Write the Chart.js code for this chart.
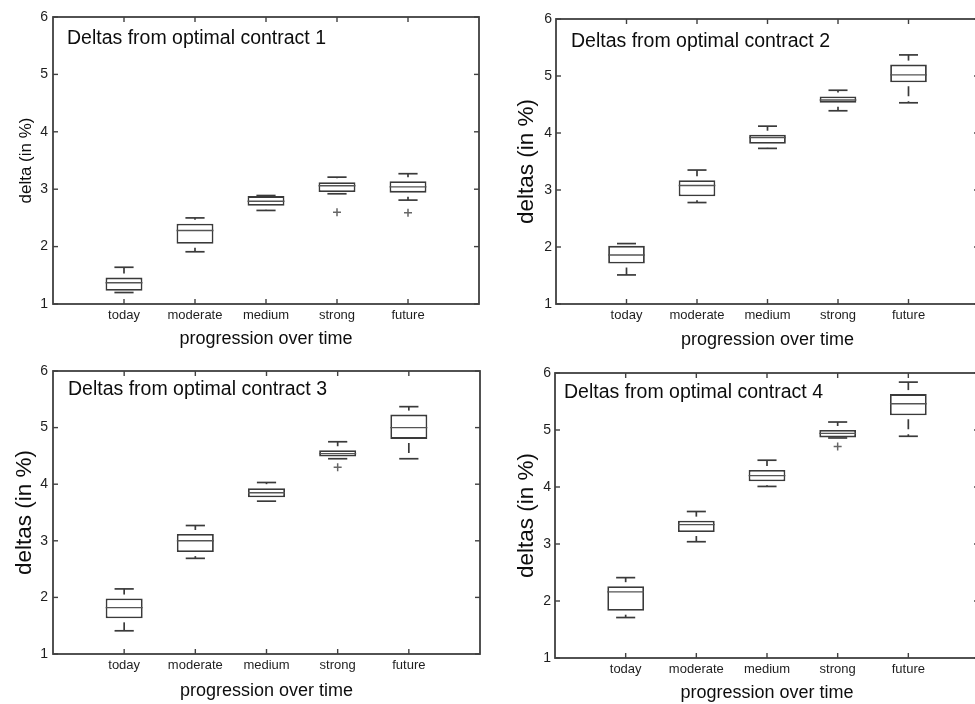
<!DOCTYPE html>
<html>
<head>
<meta charset="utf-8">
<script src="https://cdn.jsdelivr.net/npm/chart.js@4/dist/chart.umd.min.js"></script>
<style>
  html, body { margin: 0; padding: 0; background: #fff; overflow: hidden; width: 975px; height: 704px; }
  .panel { position: absolute; }
  .panel canvas { display: block; }
</style>
</head>
<body>
<div class="panel" style="left:0px;top:0px;"><canvas id="c1" width="490" height="352"></canvas></div>
<div class="panel" style="left:490px;top:0px;"><canvas id="c2" width="495" height="352"></canvas></div>
<div class="panel" style="left:0px;top:352px;"><canvas id="c3" width="490" height="352"></canvas></div>
<div class="panel" style="left:490px;top:352px;"><canvas id="c4" width="495" height="352"></canvas></div>
<script>
// Scenario categories along the x axis and the y tick values
const categories = ['today', 'moderate', 'medium', 'strong', 'future'];
const yTicks = [1, 2, 3, 4, 5, 6];

// Box statistics per scenario: [lower whisker, Q1, median, Q3, upper whisker]
const contract1 = [
  [1.20, 1.23, 1.37, 1.46, 1.64],
  [1.91, 2.05, 2.28, 2.40, 2.50],
  [2.63, 2.71, 2.79, 2.88, 2.89],
  [2.92, 2.95, 3.06, 3.12, 3.21],
  [2.81, 2.94, 3.04, 3.14, 3.27]
];
const contract2 = [
  [1.51, 1.71, 1.86, 2.02, 2.06],
  [2.78, 2.89, 3.08, 3.17, 3.35],
  [3.73, 3.81, 3.92, 3.97, 4.12],
  [4.39, 4.53, 4.58, 4.64, 4.75],
  [4.53, 4.89, 5.02, 5.20, 5.37]
];
const contract3 = [
  [1.41, 1.63, 1.82, 1.98, 2.15],
  [2.69, 2.80, 3.00, 3.12, 3.27],
  [3.70, 3.77, 3.85, 3.93, 4.03],
  [4.45, 4.49, 4.54, 4.60, 4.75],
  [4.45, 4.80, 5.00, 5.23, 5.37]
];
const contract4 = [
  [1.71, 1.83, 2.16, 2.26, 2.41],
  [3.04, 3.21, 3.34, 3.41, 3.57],
  [4.01, 4.10, 4.20, 4.30, 4.47],
  [4.86, 4.87, 4.94, 5.00, 5.14],
  [4.89, 5.26, 5.46, 5.63, 5.84]
];

// Outliers: [scenario position (1-based), value]
const contract1Outliers = [[4, 2.60], [5, 2.59]];
const contract2Outliers = [];
const contract3Outliers = [[4, 4.30]];
const contract4Outliers = [[4, 4.71]];

const panelTitles = [
  'Deltas from optimal contract 1',
  'Deltas from optimal contract 2',
  'Deltas from optimal contract 3',
  'Deltas from optimal contract 4'
];
const yTitles = ['delta (in %)', 'deltas (in %)', 'deltas (in %)', 'deltas (in %)'];
const xTitle = 'progression over time';

const FONT = '"Liberation Sans", Arial, Helvetica, sans-serif';
const INK = '#3a3a3a';
const CAP_HALF = 0.135;   // half width of whisker caps, in category units
const TICK_LEN = 5;

// Draws whiskers, caps, medians, the axes frame with inward ticks and the panel label
const boxPlotExtras = {
  id: 'boxPlotExtras',
  afterDatasetsDraw(chart, args, opts) {
    const { ctx, chartArea: a, scales: { x, y } } = chart;
    const boxes = chart.getDatasetMeta(0).data;
    const seg = (x0, y0, x1, y1) => { ctx.beginPath(); ctx.moveTo(x0, y0); ctx.lineTo(x1, y1); ctx.stroke(); };
    ctx.save();
    opts.stats.forEach((row, i) => {
      const [lo, q1, med, q3, hi] = row;
      const cx = x.getPixelForValue(i + 1);
      const cl = x.getPixelForValue(i + 1 - CAP_HALF);
      const cr = x.getPixelForValue(i + 1 + CAP_HALF);
      ctx.strokeStyle = INK;
      ctx.lineWidth = 1.7;
      // dashed whiskers from the box edges out to the caps
      ctx.setLineDash([10, 5]);
      ctx.lineDashOffset = 11;
      seg(cx, y.getPixelForValue(q3), cx, y.getPixelForValue(hi));
      seg(cx, y.getPixelForValue(q1), cx, y.getPixelForValue(lo));
      ctx.setLineDash([]);
      seg(cl, y.getPixelForValue(hi), cr, y.getPixelForValue(hi));
      seg(cl, y.getPixelForValue(lo), cr, y.getPixelForValue(lo));
      // median line across the box
      const b = boxes[i].getProps(['x', 'width'], true);
      ctx.lineWidth = 1.4;
      ctx.strokeStyle = '#555';
      seg(b.x - b.width / 2, y.getPixelForValue(med), b.x + b.width / 2, y.getPixelForValue(med));
    });
    // frame
    ctx.strokeStyle = '#404040';
    ctx.lineWidth = 1.8;
    ctx.strokeRect(a.left, a.top, a.right - a.left, a.bottom - a.top);
    // inward tick marks on all four sides
    ctx.lineWidth = 1.4;
    y.ticks.forEach(t => {
      const py = y.getPixelForValue(t.value);
      seg(a.left, py, a.left + TICK_LEN, py);
      seg(a.right, py, a.right - TICK_LEN, py);
    });
    x.ticks.forEach(t => {
      const px = x.getPixelForValue(t.value);
      seg(px, a.bottom, px, a.bottom - TICK_LEN);
      seg(px, a.top, px, a.top + TICK_LEN);
    });
    // panel label inside the axes
    ctx.fillStyle = '#0d0d0d';
    ctx.font = '19.5px ' + FONT;
    ctx.textBaseline = 'alphabetic';
    ctx.textAlign = 'left';
    ctx.fillText(opts.title, a.left + opts.titleDx, a.top + opts.titleDy);
    ctx.restore();
  }
};

function makePanel(canvasId, stats, outliers, p) {
  return new Chart(document.getElementById(canvasId), {
    type: 'bar',
    data: {
      datasets: [
        {
          type: 'bar',
          data: stats.map((r, i) => ({ x: i + 1, y: [r[1], r[3]] })),
          backgroundColor: '#fff',
          borderColor: INK,
          borderWidth: 1.8,
          borderSkipped: false,
          barPercentage: 0.52,
          categoryPercentage: 1,
          order: 2
        },
        {
          type: 'scatter',
          data: outliers.map(([c, v]) => ({ x: c, y: v })),
          pointStyle: 'cross',
          radius: 4,
          borderColor: '#666',
          borderWidth: 1.5,
          order: 1
        }
      ]
    },
    options: {
      responsive: false,
      animation: false,
      events: [],
      layout: { padding: { top: p.top, right: p.right, left: 0, bottom: 0 } },
      plugins: {
        legend: { display: false },
        tooltip: { enabled: false },
        boxPlotExtras: { stats, title: p.title, titleDx: p.titleDx, titleDy: p.titleDy }
      },
      scales: {
        x: {
          type: 'linear',
          min: 0,
          max: 6,
          offset: false,
          grid: { display: false, drawTicks: false, offset: false },
          border: { display: false },
          afterBuildTicks: s => { s.ticks = categories.map((c, i) => ({ value: i + 1 })); },
          afterFit: s => { s.height = p.xAxisH; },
          ticks: {
            autoSkip: false,
            maxRotation: 0,
            padding: 4,
            color: '#1e1e1e',
            font: { family: FONT, size: 13 },
            callback: v => categories[v - 1] ?? ''
          },
          title: {
            display: true,
            text: xTitle,
            color: '#0d0d0d',
            font: { family: FONT, size: 18 },
            padding: { top: 0, bottom: p.xTitlePad }
          }
        },
        y: {
          min: 1,
          max: 6,
          grid: { display: false, drawTicks: false },
          border: { display: false },
          afterBuildTicks: s => { s.ticks = yTicks.map(v => ({ value: v })); },
          afterFit: s => { s.width = p.yAxisW; },
          ticks: {
            padding: p.yTickPad,
            color: '#1e1e1e',
            font: { family: FONT, size: 14 }
          },
          title: {
            display: true,
            text: p.yTitle,
            color: '#0d0d0d',
            font: { family: FONT, size: p.yTitleSize },
            padding: { top: p.yTitlePad, bottom: 0 }
          }
        }
      }
    },
    plugins: [boxPlotExtras]
  });
}

makePanel('c1', contract1, contract1Outliers, {
  top: 17, right: 11, xAxisH: 48, yAxisW: 53, yTickPad: 5,
  yTitle: yTitles[0], yTitleSize: 17, yTitlePad: 15.8, xTitlePad: 2,
  title: panelTitles[0], titleDx: 14, titleDy: 27
});
makePanel('c2', contract2, contract2Outliers, {
  top: 19, right: 6, xAxisH: 48, yAxisW: 66, yTickPad: 4,
  yTitle: yTitles[1], yTitleSize: 22.5, yTitlePad: 23.5, xTitlePad: 1,
  title: panelTitles[1], titleDx: 15, titleDy: 28
});
makePanel('c3', contract3, contract3Outliers, {
  top: 19, right: 10, xAxisH: 50, yAxisW: 53, yTickPad: 5,
  yTitle: yTitles[2], yTitleSize: 22.5, yTitlePad: 11.5, xTitlePad: 2,
  title: panelTitles[2], titleDx: 15, titleDy: 24
});
makePanel('c4', contract4, contract4Outliers, {
  top: 21, right: 6, xAxisH: 46, yAxisW: 65, yTickPad: 4,
  yTitle: yTitles[3], yTitleSize: 22.5, yTitlePad: 23.5, xTitlePad: 0,
  title: panelTitles[3], titleDx: 9, titleDy: 25
});
</script>
</body>
</html>
